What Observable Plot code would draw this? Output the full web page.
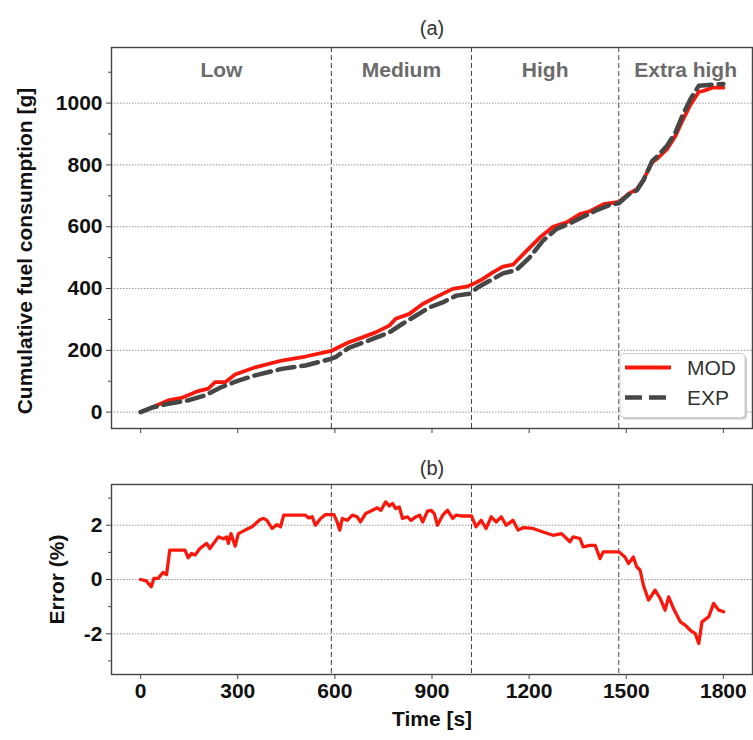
<!DOCTYPE html>
<html><head><meta charset="utf-8">
<script src="https://cdn.jsdelivr.net/npm/d3@7"></script>
<script src="https://cdn.jsdelivr.net/npm/@observablehq/plot@0.6"></script>
<style>
body{margin:0;background:#fff;}
#chart{width:753px;height:740px;position:relative;overflow:hidden;}
#chart svg{display:block;}
</style></head><body><div id="chart"></div>
<script>
const FONT = "'Liberation Sans', Arial, Helvetica, sans-serif";

// Cumulative fuel consumption, model (MOD)
const modT = [0,33,85,126,178,209,230,261,292,354,436,509,589,602,643,685,726,768,788,830,871,912,964,1006,1022,1057,1088,1119,1150,1192,1233,1274,1316,1357,1388,1430,1477,1507,1533,1554,1580,1600,1626,1652,1673,1699,1724,1740,1766,1800];
const modV = [0,14,38,46,68,76,97,97,122,145,167,180,198,205,226,242,258,280,302,318,350,372,399,406,412,431,452,471,477,522,565,600,614,641,650,673,680,706,722,754,808,824,851,894,942,996,1036,1040,1050,1050];

// Cumulative fuel consumption, experiment (EXP)
const expT = [0,33,85,147,199,250,302,354,436,509,587,602,643,705,768,809,850,892,933,975,1016,1042,1078,1119,1161,1202,1243,1285,1326,1367,1409,1450,1477,1507,1533,1554,1580,1600,1626,1652,1673,1699,1724,1745,1766,1800];
const expV = [0,14,27,38,54,81,102,119,140,151,172,178,208,232,258,286,312,339,355,377,383,404,425,449,460,501,555,593,611,632,654,671,676,704,718,752,812,832,862,905,958,1014,1056,1058,1060,1062];

// Error (%)
const errT = [0,17,28,33,41,54,69,80,90,137,147,157,168,183,204,214,240,256,266,271,279,292,302,323,344,369,380,390,406,421,432,442,509,519,530,540,556,571,597,607,615,623,638,654,669,679,695,716,731,742,757,768,778,788,799,809,824,835,850,862,871,886,897,907,917,933,948,964,974,990,1022,1036,1052,1067,1083,1098,1114,1129,1150,1166,1181,1212,1243,1274,1300,1326,1336,1357,1367,1388,1404,1419,1429,1450,1477,1496,1507,1522,1532,1543,1553,1569,1579,1589,1605,1620,1631,1646,1667,1682,1698,1713,1724,1734,1755,1770,1786,1801];
const errV = [0,-0.05,-0.2,-0.27,0.04,0.04,0.26,0.18,1.08,1.08,0.8,0.96,0.9,1.14,1.33,1.14,1.57,1.5,1.57,1.33,1.69,1.23,1.69,1.82,1.94,2.21,2.25,2.18,1.88,2.02,1.94,2.37,2.37,2.27,2.31,2.0,2.25,2.39,2.39,2.12,1.82,2.25,2.18,2.37,2.31,2.12,2.43,2.55,2.64,2.55,2.86,2.71,2.8,2.61,2.67,2.25,2.31,2.18,2.31,2.37,2.12,2.52,2.55,2.43,2.0,2.37,2.55,2.25,2.37,2.34,2.34,1.94,2.18,1.88,2.31,2.12,2.31,2.0,2.18,1.82,1.91,1.88,1.75,1.63,1.69,1.39,1.57,1.51,1.2,1.26,1.26,0.77,1.02,1.02,1.02,0.83,0.59,0.83,0.47,0.34,-0.21,-0.76,-0.58,-0.39,-0.70,-1.13,-0.64,-1.07,-1.56,-1.68,-1.87,-1.99,-2.36,-1.56,-1.37,-0.88,-1.13,-1.19];

// Phases (WLTC)
const phaseNames = ["Low","Medium","High","Extra high"];
const phaseBounds = [589,1022,1477];

// Ticks
const xTicks = [0,300,600,900,1200,1500,1800];
const fuelTicks = [0,200,400,600,800,1000];
const fuelMinor = [100,300,500,700,900,1100];
const errTicks = [-2,0,2];
const errMinor = [-3,-1,1,3];
const xDomain = [-90,1890];
const fuelDomain = [-53,1180];
const errDomain = [-3.5,3.5];

const zip = (T,V) => T.slice(0, Math.min(T.length, V.length)).map((t,i)=>({t, v:V[i]}));
const mod = zip(modT, modV);
const exp = zip(expT, expV);
const err = zip(errT, errV);

const edges = [xDomain[0], ...phaseBounds, xDomain[1]];
const phaseMid = phaseNames.map((n,i)=>(edges[i]+edges[i+1])/2);

const RED = "#f8190c";
const GRAY = "#464646";
const common = {
  width:753, marginLeft:111, marginRight:1,
  style:{fontFamily:FONT, background:"#fff", overflow:"visible"},
  x:{domain:xDomain, label:null}
};
const grid = {stroke:"#8a8a8a", strokeOpacity:1, strokeWidth:0.9, strokeDasharray:"1.5,1.5"};
const phaseRule = {stroke:"#444", strokeWidth:1, strokeDasharray:"5,3"};
const tickText = {fontSize:21, fontWeight:"bold", fill:"#111", stroke:"#444", label:null};

const topPlot = Plot.plot({
  ...common, height:440, marginTop:47, marginBottom:12,
  y:{domain:fuelDomain, label:null},
  marks:[
    Plot.gridY({ticks:fuelTicks, ...grid}),
    Plot.ruleX(phaseBounds, phaseRule),
    Plot.line(mod, {x:"t", y:"v", stroke:RED, strokeWidth:3.8, strokeLinejoin:"round"}),
    Plot.line(exp, {x:"t", y:"v", stroke:GRAY, strokeWidth:4.5, strokeDasharray:"17,7"}),
    Plot.text(phaseNames, {x:(d,i)=>phaseMid[i], text:d=>d, frameAnchor:"top", dy:15, fontSize:21, fontWeight:"bold", fill:"#6b6b6b"}),
    Plot.frame({stroke:"#444", strokeWidth:1.4}),
    Plot.axisY({ticks:fuelTicks, tickSize:5, tickPadding:4, tickFormat:d=>String(d), ...tickText}),
    Plot.axisY({ticks:fuelMinor, tickSize:3, tickFormat:()=>"", stroke:"#444", label:null}),
    Plot.axisX({ticks:xTicks, tickSize:5, tickFormat:()=>"", stroke:"#444", label:null}),
    Plot.text(["(a)"], {text:d=>d, frameAnchor:"top", dy:-27, fontSize:20, fill:"#333"}),
    Plot.text(["Cumulative fuel consumption [g]"], {text:d=>d, frameAnchor:"left", textAnchor:"middle", rotate:-90, dx:-86, dy:13, fontSize:21, fontWeight:"bold", fill:"#111"})
  ]
});

// Legend inside the top panel
{
  const g = d3.select(topPlot).append("g").attr("font-family", FONT).attr("text-anchor","start");
  g.append("rect").attr("x",622).attr("y",355.5).attr("width",125).attr("height",64).attr("rx",4).attr("fill","#999").attr("opacity",0.5);
  g.append("rect").attr("x",620).attr("y",353.5).attr("width",125).attr("height",64).attr("rx",4).attr("fill","#fff").attr("stroke","#cfcfcf").attr("stroke-width",1);
  g.append("line").attr("x1",625).attr("x2",671).attr("y1",367.5).attr("y2",367.5).attr("stroke",RED).attr("stroke-width",3.8);
  g.append("line").attr("x1",625).attr("x2",671).attr("y1",397.5).attr("y2",397.5).attr("stroke",GRAY).attr("stroke-width",4.5).attr("stroke-dasharray","17,7");
  g.append("text").attr("x",687).attr("y",375).attr("font-size",21).attr("fill","#333").attr("text-anchor","start").text("MOD");
  g.append("text").attr("x",687).attr("y",405).attr("font-size",21).attr("fill","#333").attr("text-anchor","start").text("EXP");
}

const bottomPlot = Plot.plot({
  ...common, height:300, marginTop:44, marginBottom:66,
  y:{domain:errDomain, label:null},
  marks:[
    Plot.gridY({ticks:errTicks, ...grid}),
    Plot.ruleX(phaseBounds, phaseRule),
    Plot.line(err, {x:"t", y:"v", stroke:RED, strokeWidth:3.3, strokeLinejoin:"round"}),
    Plot.frame({stroke:"#444", strokeWidth:1.4}),
    Plot.axisY({ticks:errTicks, tickSize:5, tickPadding:4, tickFormat:d=>String(d), ...tickText}),
    Plot.axisY({ticks:errMinor, tickSize:3, tickFormat:()=>"", stroke:"#444", label:null}),
    Plot.axisX({ticks:xTicks, tickSize:5, tickPadding:4, tickFormat:d=>String(d), ...tickText}),
    Plot.text(["(b)"], {text:d=>d, frameAnchor:"top", dy:-24, fontSize:20, fill:"#333"}),
    Plot.text(["Error (%)"], {text:d=>d, frameAnchor:"left", textAnchor:"middle", rotate:-90, dx:-54, fontSize:21, fontWeight:"bold", fill:"#111"}),
    Plot.text(["Time [s]"], {text:d=>d, frameAnchor:"bottom", dy:51, fontSize:21, fontWeight:"bold", fill:"#111"})
  ]
});

const chart = document.getElementById("chart");
chart.appendChild(topPlot);
chart.appendChild(bottomPlot);
</script></body></html>
